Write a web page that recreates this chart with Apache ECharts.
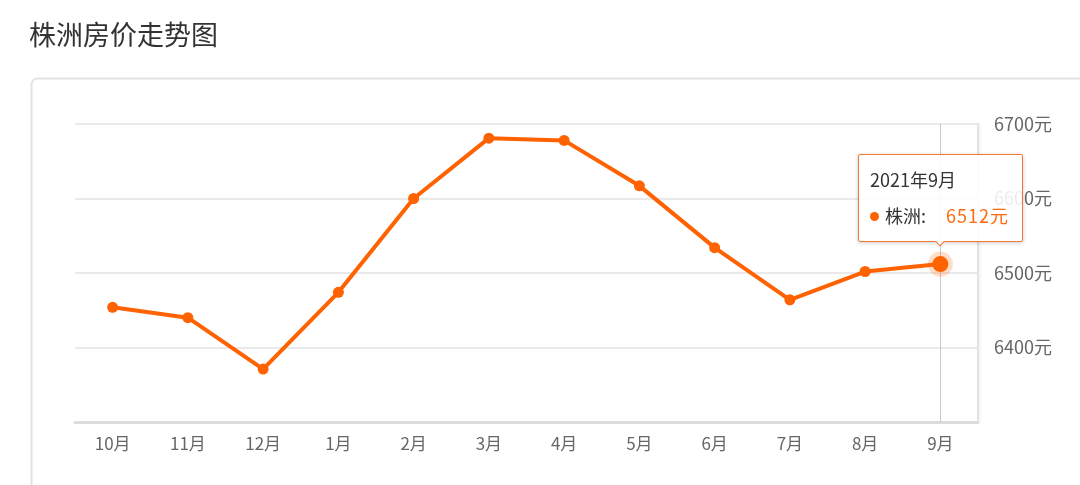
<!DOCTYPE html>
<html>
<head>
<meta charset="utf-8">
<script src="https://cdn.jsdelivr.net/npm/echarts@6/dist/echarts.min.js"></script>
<style>
html,body{margin:0;padding:0;background:#fff;}
#main{width:1080px;height:485px;}
</style>
</head>
<body>
<div id="main"></div>
<script>
const chartTitle = '株洲房价走势图';
const seriesName = '株洲';
const categories = ['10月','11月','12月','1月','2月','3月','4月','5月','6月','7月','8月','9月'];
const tooltipTitles = ['2020年10月','2020年11月','2020年12月','2021年1月','2021年2月','2021年3月','2021年4月','2021年5月','2021年6月','2021年7月','2021年8月','2021年9月'];
const prices = [6454, 6440, 6371, 6474, 6600, 6681, 6678, 6617, 6534, 6464, 6502, 6512];
const yMin = 6300, yMax = 6700, yStep = 100;
const unit = '元';
const highlightIndex = 11;

const FONT = '"Noto Sans CJK SC", "Noto Sans", sans-serif';
const CSSFONT = "'Noto Sans CJK SC','Noto Sans',sans-serif";
const ORANGE = '#ff6200';

const chart = echarts.init(document.getElementById('main'), null, {renderer: 'canvas'});

const seriesData = prices.map((v, i) => i === highlightIndex
  ? {value: v, symbolSize: 16, itemStyle: {color: ORANGE, borderColor: 'rgba(255,98,0,0.22)', borderWidth: 9}}
  : v);

chart.setOption({
  animation: false,
  textStyle: {fontFamily: FONT},
  title: {
    text: chartTitle, left: 29, top: 21, padding: 0,
    textStyle: {fontSize: 27, fontWeight: 'normal', color: '#333', fontFamily: FONT}
  },
  graphic: [{
    type: 'rect', z: -10, silent: true,
    shape: {x: 31.5, y: 78.5, width: 1200, height: 600, r: 6},
    style: {fill: '#fff', stroke: '#e3e3e3', lineWidth: 2}
  }],
  grid: {left: 75, right: 102, top: 124, bottom: 63},
  tooltip: {
    trigger: 'item',
    triggerOn: 'none',
    alwaysShowContent: true,
    position: 'top',
    backgroundColor: 'rgba(255,255,255,0.88)',
    borderColor: '#f27830',
    borderWidth: 1,
    padding: [10, 13, 12, 11],
    extraCssText: 'box-shadow:0 1px 4px rgba(0,0,0,0.2);border-radius:2px;',
    formatter: function (p) {
      return '<div style="font-family:' + CSSFONT + ';font-size:18px;color:#333;line-height:28px;">' +
        tooltipTitles[p.dataIndex] + '</div>' +
        '<div style="font-family:' + CSSFONT + ';font-size:18px;color:#333;line-height:28px;margin-top:8px;white-space:nowrap;">' +
        '<span style="display:inline-block;width:9px;height:9px;border-radius:50%;background:' + ORANGE + ';margin-right:6px;vertical-align:2px;"></span>' +
        p.seriesName + ':<span style="display:inline-block;width:20px;"></span>' +
        '<span style="color:#ff6a10;letter-spacing:1px;">' + p.value + unit + '</span></div>';
    }
  },
  xAxis: {
    type: 'category',
    data: categories,
    boundaryGap: true,
    axisLine: {lineStyle: {color: '#dcdcdc', width: 3}},
    axisTick: {alignWithLabel: true, length: 5, lineStyle: {color: '#dcdcdc', width: 1}},
    axisLabel: {color: '#666', fontSize: 17, margin: 13, fontFamily: FONT},
    splitLine: {show: false}
  },
  yAxis: {
    type: 'value',
    position: 'right',
    min: yMin, max: yMax, interval: yStep,
    axisLine: {show: true, lineStyle: {color: '#e3e3e3', width: 2, shadowColor: 'rgba(0,0,0,0.08)', shadowBlur: 3, shadowOffsetX: 1}},
    axisTick: {show: false},
    axisLabel: {color: '#666', fontSize: 18, margin: 16, showMinLabel: false, formatter: function (v) { return v + unit; }, fontFamily: FONT},
    splitLine: {lineStyle: {color: '#e3e3e3', width: 1.5}}
  },
  series: [{
    name: seriesName,
    type: 'line',
    data: seriesData,
    symbol: 'circle',
    symbolSize: 11,
    showSymbol: true,
    itemStyle: {color: ORANGE},
    lineStyle: {color: ORANGE, width: 4},
    emphasis: {disabled: true},
    markLine: {
      silent: true,
      symbol: 'none',
      label: {show: false},
      lineStyle: {color: '#c8c8c8', width: 1, type: 'solid'},
      data: [{xAxis: categories[highlightIndex]}],
      z: 1
    },
    z: 3
  }]
});

chart.dispatchAction({type: 'showTip', seriesIndex: 0, dataIndex: highlightIndex});
</script>
</body>
</html>
